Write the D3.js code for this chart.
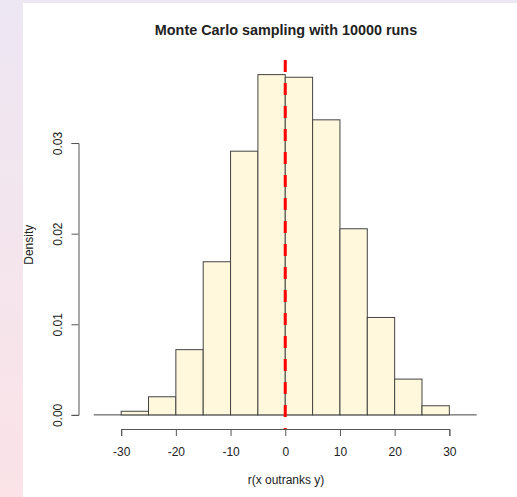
<!DOCTYPE html>
<html>
<head>
<meta charset="utf-8">
<script src="https://cdn.jsdelivr.net/npm/d3@7"></script>
<style>
  html, body { margin: 0; padding: 0; }
  body {
    width: 517px; height: 497px; overflow: hidden;
    background: linear-gradient(to bottom, #ede7f3, #fbe3e7);
  }
  .canvas { position: absolute; left: 23px; top: 3px; width: 494px; height: 494px; background: #fff; }
  svg { position: absolute; left: 0; top: 0; }
  text { font-family: "Liberation Sans", Arial, sans-serif; fill: #222; }
</style>
</head>
<body>
<div class="canvas"></div>
<script>
// Histogram data (density per bin, bin width 5)
const binStarts = [-35, -30, -25, -20, -15, -10, -5, 0, 5, 10, 15, 20, 25, 30]
const densities = [0, 0.0004, 0.0020, 0.0072, 0.0169, 0.0291, 0.03755, 0.03726, 0.03256, 0.02054, 0.01075, 0.00395, 0.00101, 0]
const binWidth = 5
const xTicks = [-30, -20, -10, 0, 10, 20, 30]
const yTicks = [0, 0.01, 0.02, 0.03]
const refLine = 0

const wWidth = 517
const wHeight = 497

const svg = d3.select('body')
    .append('svg')
    .attr('width', wWidth)
    .attr('height', wHeight)

// Plot region (R style: 4% padding around data range)
const plot = {left: 78.5, right: 492, top: 61, bottom: 428.5}

const xMin = binStarts[0], xMax = binStarts[binStarts.length - 1] + binWidth
const xPad = (xMax - xMin) * 0.04
const yMax = d3.max(densities)
const yPad = yMax * 0.04

const xScale = d3.scaleLinear()
    .domain([xMin - xPad, xMax + xPad])
    .range([plot.left, plot.right])

const yScale = d3.scaleLinear()
    .domain([-yPad, yMax + yPad])
    .range([plot.bottom, plot.top])

// Baseline under all bins (empty bins show as a flat line)
svg.append('line')
    .attr('x1', xScale(xMin))
    .attr('x2', xScale(xMax))
    .attr('y1', yScale(0))
    .attr('y2', yScale(0))
    .attr('stroke', '#444')
    .attr('stroke-width', 1)

// Bars
svg.append('g')
    .selectAll('rect')
    .data(binStarts)
    .enter()
    .append('rect')
    .attr('x', d => xScale(d))
    .attr('y', (d, i) => yScale(densities[i]))
    .attr('width', d => xScale(d + binWidth) - xScale(d))
    .attr('height', (d, i) => yScale(0) - yScale(densities[i]))
    .attr('fill', '#fff8dc')
    .attr('stroke', '#444')
    .attr('stroke-width', 1)

// Red dashed reference line
svg.append('line')
    .attr('x1', xScale(refLine))
    .attr('x2', xScale(refLine))
    .attr('y1', plot.top - 1)
    .attr('y2', plot.bottom + 1)
    .attr('stroke', '#ff0000')
    .attr('stroke-width', 3)
    .attr('stroke-dasharray', '12,11')

// X axis
const xAxisScale = xScale.copy()
    .domain([xTicks[0], xTicks[xTicks.length - 1]])
    .range([xScale(xTicks[0]), xScale(xTicks[xTicks.length - 1])])
const xAxisGroup = svg.append('g')
    .attr('transform', `translate(0, ${plot.bottom + 0.5})`)
    .call(d3.axisBottom(xAxisScale).tickValues(xTicks).tickSizeOuter(0).tickSize(7).tickPadding(11)
        .tickFormat(d => String(d)))
xAxisGroup.selectAll('path, line').attr('stroke', '#555')
xAxisGroup.selectAll('text')
    .style('font-family', '"Liberation Sans", Arial, sans-serif')
    .style('font-size', '12px')
    .attr('fill', '#222')

// Y axis
const yAxisScale = yScale.copy()
    .domain([yTicks[0], yTicks[yTicks.length - 1]])
    .range([yScale(yTicks[0]), yScale(yTicks[yTicks.length - 1])])
const yAxisGroup = svg.append('g')
    .attr('transform', `translate(${plot.left}, 0)`)
    .call(d3.axisLeft(yAxisScale).tickValues(yTicks).tickSizeOuter(0).tickSize(7).tickFormat(d3.format('.2f')))
yAxisGroup.selectAll('path, line').attr('stroke', '#555')
yAxisGroup.selectAll('text')
    .attr('transform', 'rotate(-90)')
    .attr('x', 0)
    .attr('y', -16.5)
    .attr('dy', 0)
    .style('text-anchor', 'middle')
    .style('font-family', '"Liberation Sans", Arial, sans-serif')
    .style('font-size', '12px')
    .attr('fill', '#222')

// Title and axis labels
svg.append('text')
    .attr('x', 286)
    .attr('y', 35)
    .style('text-anchor', 'middle')
    .style('font-weight', 'bold')
    .style('font-size', '14.4px')
    .text('Monte Carlo sampling with 10000 runs')

svg.append('text')
    .attr('x', 286)
    .attr('y', 484)
    .style('text-anchor', 'middle')
    .style('font-size', '12px')
    .text('r(x outranks y)')

svg.append('text')
    .attr('transform', `translate(32.5, ${(plot.top + plot.bottom) / 2}) rotate(-90)`)
    .style('text-anchor', 'middle')
    .style('font-size', '12px')
    .text('Density')
</script>
</body>
</html>
